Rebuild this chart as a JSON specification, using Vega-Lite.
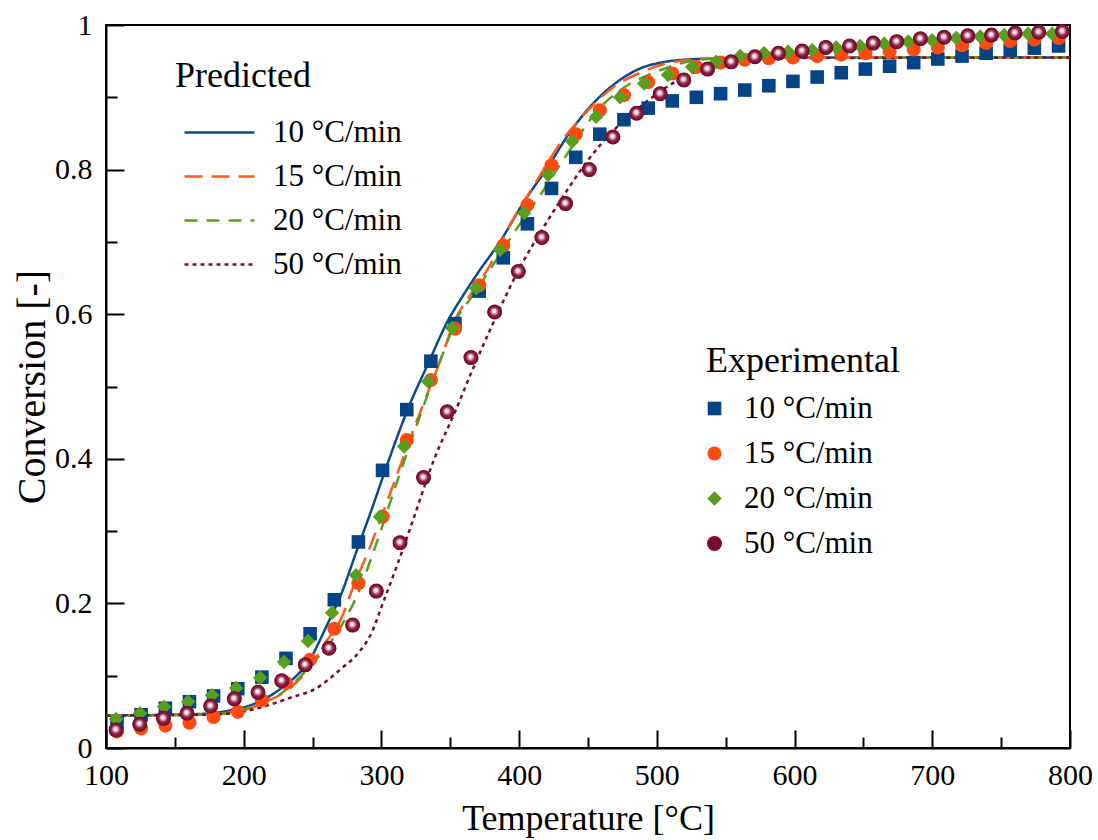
{
  "$schema": "https://vega.github.io/schema/vega-lite/v6.json",
  "width": 964,
  "height": 723,
  "autosize": "none",
  "padding": {"left": 106, "top": 25, "right": 28, "bottom": 92},
  "background": "white",
  "config": {
    "view": {"stroke": "black", "strokeWidth": 2},
    "font": "Liberation Serif",
    "axis": {"labelFont": "Liberation Serif", "titleFont": "Liberation Serif"},
    "legend": {"labelFont": "Liberation Serif", "titleFont": "Liberation Serif", "labelLimit": 400, "titleLimit": 400}
  },
  "datasets": {
    "pred": [
      {"T":100,"C":0.045,"rate":"10 °C/min"},{"T":150,"C":0.046,"rate":"10 °C/min"},{"T":175,"C":0.048,"rate":"10 °C/min"},{"T":190,"C":0.052,"rate":"10 °C/min"},{"T":210,"C":0.063,"rate":"10 °C/min"},{"T":229,"C":0.085,"rate":"10 °C/min"},{"T":240,"C":0.103,"rate":"10 °C/min"},{"T":247,"C":0.118,"rate":"10 °C/min"},{"T":253,"C":0.140,"rate":"10 °C/min"},{"T":260,"C":0.168,"rate":"10 °C/min"},{"T":271,"C":0.214,"rate":"10 °C/min"},{"T":283,"C":0.278,"rate":"10 °C/min"},{"T":292,"C":0.325,"rate":"10 °C/min"},{"T":302,"C":0.380,"rate":"10 °C/min"},{"T":311,"C":0.428,"rate":"10 °C/min"},{"T":319,"C":0.468,"rate":"10 °C/min"},{"T":334,"C":0.532,"rate":"10 °C/min"},{"T":348,"C":0.590,"rate":"10 °C/min"},{"T":360,"C":0.628,"rate":"10 °C/min"},{"T":370,"C":0.657,"rate":"10 °C/min"},{"T":387,"C":0.703,"rate":"10 °C/min"},{"T":403,"C":0.754,"rate":"10 °C/min"},{"T":421,"C":0.804,"rate":"10 °C/min"},{"T":437,"C":0.852,"rate":"10 °C/min"},{"T":454,"C":0.892,"rate":"10 °C/min"},{"T":471,"C":0.921,"rate":"10 °C/min"},{"T":488,"C":0.940,"rate":"10 °C/min"},{"T":503,"C":0.948,"rate":"10 °C/min"},{"T":520,"C":0.952,"rate":"10 °C/min"},{"T":550,"C":0.954,"rate":"10 °C/min"},{"T":600,"C":0.955,"rate":"10 °C/min"},{"T":800,"C":0.955,"rate":"10 °C/min"},
      {"T":100,"C":0.045,"rate":"15 °C/min"},{"T":170,"C":0.046,"rate":"15 °C/min"},{"T":199,"C":0.052,"rate":"15 °C/min"},{"T":215,"C":0.063,"rate":"15 °C/min"},{"T":235,"C":0.085,"rate":"15 °C/min"},{"T":248,"C":0.112,"rate":"15 °C/min"},{"T":259,"C":0.145,"rate":"15 °C/min"},{"T":271,"C":0.180,"rate":"15 °C/min"},{"T":280,"C":0.225,"rate":"15 °C/min"},{"T":290,"C":0.270,"rate":"15 °C/min"},{"T":308,"C":0.361,"rate":"15 °C/min"},{"T":325,"C":0.449,"rate":"15 °C/min"},{"T":341,"C":0.527,"rate":"15 °C/min"},{"T":355,"C":0.598,"rate":"15 °C/min"},{"T":365,"C":0.628,"rate":"15 °C/min"},{"T":378,"C":0.665,"rate":"15 °C/min"},{"T":394,"C":0.726,"rate":"15 °C/min"},{"T":412,"C":0.782,"rate":"15 °C/min"},{"T":430,"C":0.837,"rate":"15 °C/min"},{"T":450,"C":0.882,"rate":"15 °C/min"},{"T":469,"C":0.915,"rate":"15 °C/min"},{"T":488,"C":0.934,"rate":"15 °C/min"},{"T":505,"C":0.946,"rate":"15 °C/min"},{"T":525,"C":0.952,"rate":"15 °C/min"},{"T":550,"C":0.954,"rate":"15 °C/min"},{"T":600,"C":0.955,"rate":"15 °C/min"},{"T":800,"C":0.955,"rate":"15 °C/min"},
      {"T":100,"C":0.045,"rate":"20 °C/min"},{"T":170,"C":0.046,"rate":"20 °C/min"},{"T":195,"C":0.050,"rate":"20 °C/min"},{"T":206,"C":0.058,"rate":"20 °C/min"},{"T":229,"C":0.078,"rate":"20 °C/min"},{"T":249,"C":0.115,"rate":"20 °C/min"},{"T":269,"C":0.163,"rate":"20 °C/min"},{"T":283,"C":0.214,"rate":"20 °C/min"},{"T":294,"C":0.270,"rate":"20 °C/min"},{"T":312,"C":0.372,"rate":"20 °C/min"},{"T":327,"C":0.454,"rate":"20 °C/min"},{"T":341,"C":0.527,"rate":"20 °C/min"},{"T":356,"C":0.598,"rate":"20 °C/min"},{"T":366,"C":0.625,"rate":"20 °C/min"},{"T":380,"C":0.665,"rate":"20 °C/min"},{"T":396,"C":0.712,"rate":"20 °C/min"},{"T":416,"C":0.767,"rate":"20 °C/min"},{"T":435,"C":0.822,"rate":"20 °C/min"},{"T":457,"C":0.882,"rate":"20 °C/min"},{"T":479,"C":0.917,"rate":"20 °C/min"},{"T":498,"C":0.934,"rate":"20 °C/min"},{"T":524,"C":0.950,"rate":"20 °C/min"},{"T":546,"C":0.954,"rate":"20 °C/min"},{"T":600,"C":0.955,"rate":"20 °C/min"},{"T":800,"C":0.955,"rate":"20 °C/min"},
      {"T":100,"C":0.045,"rate":"50 °C/min"},{"T":170,"C":0.046,"rate":"50 °C/min"},{"T":191,"C":0.048,"rate":"50 °C/min"},{"T":214,"C":0.057,"rate":"50 °C/min"},{"T":233,"C":0.069,"rate":"50 °C/min"},{"T":253,"C":0.083,"rate":"50 °C/min"},{"T":271,"C":0.110,"rate":"50 °C/min"},{"T":283,"C":0.131,"rate":"50 °C/min"},{"T":293,"C":0.160,"rate":"50 °C/min"},{"T":300,"C":0.195,"rate":"50 °C/min"},{"T":312,"C":0.256,"rate":"50 °C/min"},{"T":322,"C":0.310,"rate":"50 °C/min"},{"T":338,"C":0.398,"rate":"50 °C/min"},{"T":353,"C":0.463,"rate":"50 °C/min"},{"T":367,"C":0.527,"rate":"50 °C/min"},{"T":380,"C":0.583,"rate":"50 °C/min"},{"T":401,"C":0.666,"rate":"50 °C/min"},{"T":418,"C":0.721,"rate":"50 °C/min"},{"T":435,"C":0.772,"rate":"50 °C/min"},{"T":450,"C":0.813,"rate":"50 °C/min"},{"T":469,"C":0.855,"rate":"50 °C/min"},{"T":488,"C":0.887,"rate":"50 °C/min"},{"T":512,"C":0.920,"rate":"50 °C/min"},{"T":532,"C":0.938,"rate":"50 °C/min"},{"T":560,"C":0.950,"rate":"50 °C/min"},{"T":584,"C":0.954,"rate":"50 °C/min"},{"T":800,"C":0.955,"rate":"50 °C/min"}
    ],
    "exp": [
      {"T":108.0,"C":0.035,"heating":"10 °C/min"},{"T":125.5,"C":0.046,"heating":"10 °C/min"},{"T":143.1,"C":0.055,"heating":"10 °C/min"},{"T":160.6,"C":0.064,"heating":"10 °C/min"},{"T":178.1,"C":0.072,"heating":"10 °C/min"},{"T":195.7,"C":0.082,"heating":"10 °C/min"},{"T":213.2,"C":0.098,"heating":"10 °C/min"},{"T":230.7,"C":0.124,"heating":"10 °C/min"},{"T":248.2,"C":0.158,"heating":"10 °C/min"},{"T":265.8,"C":0.205,"heating":"10 °C/min"},{"T":283.3,"C":0.285,"heating":"10 °C/min"},{"T":300.8,"C":0.384,"heating":"10 °C/min"},{"T":318.4,"C":0.468,"heating":"10 °C/min"},{"T":335.9,"C":0.535,"heating":"10 °C/min"},{"T":353.4,"C":0.587,"heating":"10 °C/min"},{"T":371.0,"C":0.632,"heating":"10 °C/min"},{"T":388.5,"C":0.678,"heating":"10 °C/min"},{"T":406.0,"C":0.725,"heating":"10 °C/min"},{"T":423.5,"C":0.774,"heating":"10 °C/min"},{"T":441.1,"C":0.817,"heating":"10 °C/min"},{"T":458.6,"C":0.849,"heating":"10 °C/min"},{"T":476.1,"C":0.869,"heating":"10 °C/min"},{"T":493.7,"C":0.885,"heating":"10 °C/min"},{"T":511.2,"C":0.895,"heating":"10 °C/min"},{"T":528.7,"C":0.900,"heating":"10 °C/min"},{"T":546.3,"C":0.905,"heating":"10 °C/min"},{"T":563.8,"C":0.910,"heating":"10 °C/min"},{"T":581.3,"C":0.916,"heating":"10 °C/min"},{"T":598.8,"C":0.922,"heating":"10 °C/min"},{"T":616.4,"C":0.928,"heating":"10 °C/min"},{"T":633.9,"C":0.934,"heating":"10 °C/min"},{"T":651.4,"C":0.939,"heating":"10 °C/min"},{"T":669.0,"C":0.943,"heating":"10 °C/min"},{"T":686.5,"C":0.948,"heating":"10 °C/min"},{"T":704.0,"C":0.953,"heating":"10 °C/min"},{"T":721.6,"C":0.957,"heating":"10 °C/min"},{"T":739.1,"C":0.961,"heating":"10 °C/min"},{"T":756.6,"C":0.965,"heating":"10 °C/min"},{"T":774.1,"C":0.968,"heating":"10 °C/min"},{"T":791.7,"C":0.971,"heating":"10 °C/min"},
      {"T":108.0,"C":0.023,"heating":"15 °C/min"},{"T":125.5,"C":0.027,"heating":"15 °C/min"},{"T":143.1,"C":0.031,"heating":"15 °C/min"},{"T":160.6,"C":0.035,"heating":"15 °C/min"},{"T":178.1,"C":0.043,"heating":"15 °C/min"},{"T":195.7,"C":0.050,"heating":"15 °C/min"},{"T":213.2,"C":0.066,"heating":"15 °C/min"},{"T":230.7,"C":0.090,"heating":"15 °C/min"},{"T":248.2,"C":0.122,"heating":"15 °C/min"},{"T":265.8,"C":0.165,"heating":"15 °C/min"},{"T":283.3,"C":0.228,"heating":"15 °C/min"},{"T":300.8,"C":0.320,"heating":"15 °C/min"},{"T":318.4,"C":0.426,"heating":"15 °C/min"},{"T":335.9,"C":0.509,"heating":"15 °C/min"},{"T":353.4,"C":0.580,"heating":"15 °C/min"},{"T":371.0,"C":0.640,"heating":"15 °C/min"},{"T":388.5,"C":0.695,"heating":"15 °C/min"},{"T":406.0,"C":0.751,"heating":"15 °C/min"},{"T":423.5,"C":0.806,"heating":"15 °C/min"},{"T":441.1,"C":0.849,"heating":"15 °C/min"},{"T":458.6,"C":0.882,"heating":"15 °C/min"},{"T":476.1,"C":0.903,"heating":"15 °C/min"},{"T":493.7,"C":0.921,"heating":"15 °C/min"},{"T":511.2,"C":0.933,"heating":"15 °C/min"},{"T":528.7,"C":0.942,"heating":"15 °C/min"},{"T":546.3,"C":0.948,"heating":"15 °C/min"},{"T":563.8,"C":0.952,"heating":"15 °C/min"},{"T":581.3,"C":0.954,"heating":"15 °C/min"},{"T":598.8,"C":0.955,"heating":"15 °C/min"},{"T":616.4,"C":0.957,"heating":"15 °C/min"},{"T":633.9,"C":0.959,"heating":"15 °C/min"},{"T":651.4,"C":0.961,"heating":"15 °C/min"},{"T":669.0,"C":0.963,"heating":"15 °C/min"},{"T":686.5,"C":0.966,"heating":"15 °C/min"},{"T":704.0,"C":0.969,"heating":"15 °C/min"},{"T":721.6,"C":0.972,"heating":"15 °C/min"},{"T":739.1,"C":0.975,"heating":"15 °C/min"},{"T":756.6,"C":0.978,"heating":"15 °C/min"},{"T":774.1,"C":0.980,"heating":"15 °C/min"},{"T":791.7,"C":0.982,"heating":"15 °C/min"},
      {"T":107.3,"C":0.040,"heating":"20 °C/min"},{"T":124.7,"C":0.048,"heating":"20 °C/min"},{"T":142.2,"C":0.057,"heating":"20 °C/min"},{"T":159.6,"C":0.064,"heating":"20 °C/min"},{"T":177.0,"C":0.073,"heating":"20 °C/min"},{"T":194.5,"C":0.083,"heating":"20 °C/min"},{"T":211.9,"C":0.097,"heating":"20 °C/min"},{"T":229.3,"C":0.119,"heating":"20 °C/min"},{"T":246.7,"C":0.148,"heating":"20 °C/min"},{"T":264.2,"C":0.187,"heating":"20 °C/min"},{"T":281.6,"C":0.239,"heating":"20 °C/min"},{"T":299.0,"C":0.320,"heating":"20 °C/min"},{"T":316.5,"C":0.417,"heating":"20 °C/min"},{"T":333.9,"C":0.507,"heating":"20 °C/min"},{"T":351.3,"C":0.581,"heating":"20 °C/min"},{"T":368.8,"C":0.636,"heating":"20 °C/min"},{"T":386.2,"C":0.689,"heating":"20 °C/min"},{"T":403.6,"C":0.740,"heating":"20 °C/min"},{"T":421.0,"C":0.793,"heating":"20 °C/min"},{"T":438.5,"C":0.839,"heating":"20 °C/min"},{"T":455.9,"C":0.873,"heating":"20 °C/min"},{"T":473.3,"C":0.900,"heating":"20 °C/min"},{"T":490.8,"C":0.919,"heating":"20 °C/min"},{"T":508.2,"C":0.931,"heating":"20 °C/min"},{"T":525.6,"C":0.942,"heating":"20 °C/min"},{"T":543.1,"C":0.949,"heating":"20 °C/min"},{"T":560.5,"C":0.957,"heating":"20 °C/min"},{"T":577.9,"C":0.961,"heating":"20 °C/min"},{"T":595.3,"C":0.963,"heating":"20 °C/min"},{"T":612.8,"C":0.965,"heating":"20 °C/min"},{"T":630.2,"C":0.969,"heating":"20 °C/min"},{"T":647.6,"C":0.971,"heating":"20 °C/min"},{"T":665.1,"C":0.974,"heating":"20 °C/min"},{"T":682.5,"C":0.977,"heating":"20 °C/min"},{"T":699.9,"C":0.979,"heating":"20 °C/min"},{"T":717.4,"C":0.982,"heating":"20 °C/min"},{"T":734.8,"C":0.984,"heating":"20 °C/min"},{"T":752.2,"C":0.986,"heating":"20 °C/min"},{"T":769.6,"C":0.988,"heating":"20 °C/min"},{"T":787.1,"C":0.988,"heating":"20 °C/min"},
      {"T":107.3,"C":0.025,"heating":"50 °C/min"},{"T":124.5,"C":0.033,"heating":"50 °C/min"},{"T":141.7,"C":0.041,"heating":"50 °C/min"},{"T":158.8,"C":0.048,"heating":"50 °C/min"},{"T":176.0,"C":0.058,"heating":"50 °C/min"},{"T":193.2,"C":0.068,"heating":"50 °C/min"},{"T":210.4,"C":0.077,"heating":"50 °C/min"},{"T":227.6,"C":0.093,"heating":"50 °C/min"},{"T":244.7,"C":0.115,"heating":"50 °C/min"},{"T":261.9,"C":0.138,"heating":"50 °C/min"},{"T":279.1,"C":0.170,"heating":"50 °C/min"},{"T":296.3,"C":0.217,"heating":"50 °C/min"},{"T":313.5,"C":0.284,"heating":"50 °C/min"},{"T":330.6,"C":0.374,"heating":"50 °C/min"},{"T":347.8,"C":0.465,"heating":"50 °C/min"},{"T":365.0,"C":0.540,"heating":"50 °C/min"},{"T":382.2,"C":0.603,"heating":"50 °C/min"},{"T":399.4,"C":0.659,"heating":"50 °C/min"},{"T":416.5,"C":0.706,"heating":"50 °C/min"},{"T":433.7,"C":0.753,"heating":"50 °C/min"},{"T":450.9,"C":0.800,"heating":"50 °C/min"},{"T":468.1,"C":0.845,"heating":"50 °C/min"},{"T":485.3,"C":0.878,"heating":"50 °C/min"},{"T":502.4,"C":0.905,"heating":"50 °C/min"},{"T":519.6,"C":0.924,"heating":"50 °C/min"},{"T":536.8,"C":0.939,"heating":"50 °C/min"},{"T":554.0,"C":0.949,"heating":"50 °C/min"},{"T":571.2,"C":0.956,"heating":"50 °C/min"},{"T":588.3,"C":0.961,"heating":"50 °C/min"},{"T":605.5,"C":0.964,"heating":"50 °C/min"},{"T":622.7,"C":0.969,"heating":"50 °C/min"},{"T":639.9,"C":0.971,"heating":"50 °C/min"},{"T":657.1,"C":0.975,"heating":"50 °C/min"},{"T":674.2,"C":0.977,"heating":"50 °C/min"},{"T":691.4,"C":0.981,"heating":"50 °C/min"},{"T":708.6,"C":0.983,"heating":"50 °C/min"},{"T":725.8,"C":0.985,"heating":"50 °C/min"},{"T":743.0,"C":0.986,"heating":"50 °C/min"},{"T":760.1,"C":0.989,"heating":"50 °C/min"},{"T":777.3,"C":0.990,"heating":"50 °C/min"},{"T":794.5,"C":0.991,"heating":"50 °C/min"}
    ]
  },
  "layer": [
    {
      "data": {"name": "pred"},
      "mark": {"type": "line", "strokeWidth": 2.5, "interpolate": "monotone"},
      "encoding": {
        "x": {"field": "T", "type": "quantitative", "scale": {"domain": [100, 800], "nice": false},
          "axis": {"values": [100,150,200,250,300,350,400,450,500,550,600,650,700,750,800],
            "labelExpr": "datum.value % 100 === 0 ? datum.label : ''",
            "tickSize": {"condition": {"test": "datum.value % 100 === 0", "value": -18}, "value": -11},
            "tickWidth": 2, "tickColor": "black", "domainColor": "black", "domainWidth": 2,
            "labelPadding": 30, "labelFont": "Liberation Serif", "labelFontSize": 30, "labelColor": "black", "labelFlush": false,
            "grid": false, "title": "Temperature [°C]", "titleFont": "Liberation Serif", "titleFontSize": 36, "titleFontWeight": "normal", "titleColor": "black", "titlePadding": 11}},
        "y": {"field": "C", "type": "quantitative", "scale": {"domain": [0, 1], "nice": false},
          "axis": {"values": [0,0.1,0.2,0.3,0.4,0.5,0.6,0.7,0.8,0.9,1],
            "labelExpr": "round(datum.value*10) % 2 === 0 ? format(datum.value, '~g') : ''",
            "tickSize": {"condition": {"test": "round(datum.value*10) % 2 === 0", "value": -18}, "value": -11},
            "tickWidth": 2, "tickColor": "black", "domainColor": "black", "domainWidth": 2,
            "labelPadding": 32, "labelFont": "Liberation Serif", "labelFontSize": 30, "labelColor": "black", "labelFlush": false,
            "grid": false, "title": "Conversion [-]", "titleFont": "Liberation Serif", "titleFontSize": 40, "titleFontWeight": "normal", "titleColor": "black", "titlePadding": 2}},
        "color": {"field": "rate", "type": "nominal",
          "scale": {"domain": ["10 °C/min", "15 °C/min", "20 °C/min", "50 °C/min"], "range": ["#0b4a8e", "#ff5a1f", "#5a9e1e", "#7a0a2e"]},
          "legend": {"title": "Predicted", "orient": "none", "legendX": 69, "legendY": 34, "padding": 0,
            "titleFontSize": 36, "titleFontWeight": "normal", "titleColor": "black", "titlePadding": 22,
            "labelFontSize": 31, "labelColor": "black", "labelOffset": 38,
            "symbolType": "M-2.5,0L2.5,0", "symbolSize": 784, "symbolStrokeWidth": 2.5, "symbolOffset": 29, "rowPadding": 12}},
        "strokeDash": {"field": "rate", "type": "nominal",
          "scale": {"domain": ["10 °C/min", "15 °C/min", "20 °C/min", "50 °C/min"], "range": [[1, 0], [18, 9], [13, 9], [4, 4]]},
          "legend": {"title": "Predicted", "orient": "none", "legendX": 69, "legendY": 34, "padding": 0,
            "titleFontSize": 36, "titleFontWeight": "normal", "titleColor": "black", "titlePadding": 22,
            "labelFontSize": 31, "labelColor": "black", "labelOffset": 38,
            "symbolType": "M-2.5,0L2.5,0", "symbolSize": 784, "symbolStrokeWidth": 2.5, "symbolOffset": 29, "rowPadding": 12}}
      }
    },
    {
      "data": {"name": "exp"},
      "mark": {"type": "point", "filled": true, "opacity": 1, "strokeWidth": 0},
      "encoding": {
        "x": {"field": "T", "type": "quantitative"},
        "y": {"field": "C", "type": "quantitative"},
        "color": {"field": "heating", "type": "nominal",
          "scale": {"domain": ["10 °C/min", "15 °C/min", "20 °C/min", "50 °C/min"], "range": ["#034487", "#ff4a12", "#5a9e1e", "#7a0a2e"]},
          "legend": {"title": "Experimental", "orient": "none", "legendX": 600, "legendY": 319, "padding": 0,
            "titleFontSize": 36, "titleFontWeight": "normal", "titleColor": "black", "titlePadding": 13,
            "labelFontSize": 31, "labelColor": "black", "labelOffset": 14,
            "symbolOffset": -7, "symbolSize": 170, "rowPadding": 13, "symbolStrokeWidth": 0,
            "encode": {"symbols": {"fill": {"condition": [
              {"test": "datum.value === '50 °C/min'", "value": {"gradient": "radial", "x1": 0.45, "y1": 0.42, "r1": 0, "x2": 0.5, "y2": 0.5, "r2": 0.5,
                "stops": [{"offset": 0, "color": "#ffffff"}, {"offset": 0.25, "color": "#f0d8e0"}, {"offset": 0.6, "color": "#93264a"}, {"offset": 1, "color": "#6a0826"}]}},
              {"test": "datum.value === '10 °C/min'", "value": "#034487"},
              {"test": "datum.value === '15 °C/min'", "value": "#ff4a12"}],
              "value": "#5a9e1e"}}}}},
        "shape": {"field": "heating", "type": "nominal",
          "scale": {"domain": ["10 °C/min", "15 °C/min", "20 °C/min", "50 °C/min"], "range": ["square", "circle", "diamond", "circle"]},
          "legend": {"title": "Experimental", "orient": "none", "legendX": 600, "legendY": 319, "padding": 0,
            "titleFontSize": 36, "titleFontWeight": "normal", "titleColor": "black", "titlePadding": 13,
            "labelFontSize": 31, "labelColor": "black", "labelOffset": 14,
            "symbolOffset": -7, "symbolSize": 170, "rowPadding": 13, "symbolStrokeWidth": 0,
            "encode": {"symbols": {"fill": {"condition": [
              {"test": "datum.value === '50 °C/min'", "value": {"gradient": "radial", "x1": 0.45, "y1": 0.42, "r1": 0, "x2": 0.5, "y2": 0.5, "r2": 0.5,
                "stops": [{"offset": 0, "color": "#ffffff"}, {"offset": 0.25, "color": "#f0d8e0"}, {"offset": 0.6, "color": "#93264a"}, {"offset": 1, "color": "#6a0826"}]}},
              {"test": "datum.value === '10 °C/min'", "value": "#034487"},
              {"test": "datum.value === '15 °C/min'", "value": "#ff4a12"}],
              "value": "#5a9e1e"}}}}},
        "size": {"field": "heating", "type": "nominal",
          "scale": {"domain": ["10 °C/min", "15 °C/min", "20 °C/min", "50 °C/min"], "range": [185, 225, 225, 200]},
          "legend": null}
      }
    },
    {
      "data": {"name": "exp"},
      "transform": [{"filter": "datum.heating === '50 °C/min'"}],
      "mark": {"type": "point", "filled": true, "shape": "circle", "size": 200, "opacity": 1, "strokeWidth": 0,
        "fill": {"gradient": "radial", "x1": 0.45, "y1": 0.42, "r1": 0, "x2": 0.5, "y2": 0.5, "r2": 0.5,
          "stops": [{"offset": 0, "color": "#ffffff"}, {"offset": 0.25, "color": "#f0d8e0"}, {"offset": 0.6, "color": "#93264a"}, {"offset": 1, "color": "#6a0826"}]}},
      "encoding": {
        "x": {"field": "T", "type": "quantitative"},
        "y": {"field": "C", "type": "quantitative"}
      }
    }
  ],
  "resolve": {"scale": {"color": "independent", "shape": "independent", "strokeDash": "independent", "size": "independent"}}
}
